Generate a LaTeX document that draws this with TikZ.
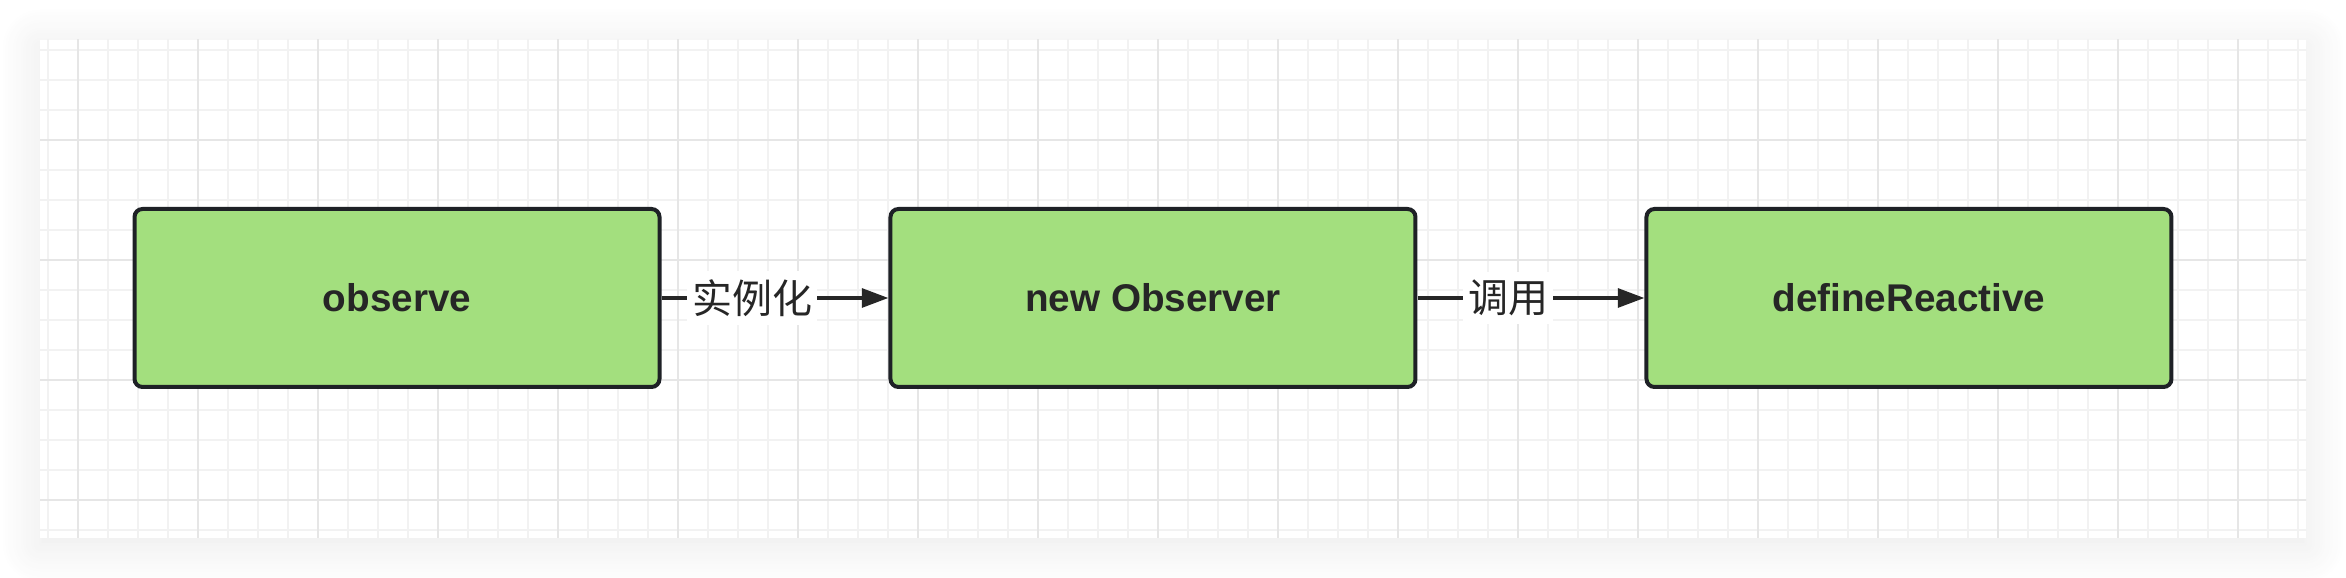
\documentclass[tikz,border=0pt]{standalone}
\usepackage{fontspec}
\setmainfont{Liberation Sans}
\newfontfamily\cjk{Noto Sans CJK SC}
\usepackage{tikz}
\usetikzlibrary{matrix,arrows.meta,shadows.blur}

\definecolor{boxfill}{HTML}{A3DF7E}
\definecolor{boxline}{HTML}{1E2126}
\definecolor{txt}{HTML}{262626}
\definecolor{gridminor}{HTML}{F2F2F2}
\definecolor{gridmajor}{HTML}{E6E6E6}

\tikzset{
	flowline/.style={line width=1.2pt,draw=txt,-{Triangle[length=8pt,width=5.6pt]}},
	flowlabel/.style={fill=white,text=txt,font=\cjk\fontsize{12}{14}\selectfont,inner xsep=1.5pt,inner ysep=2.5pt,pos=0.4},
}

\begin{document}
\begin{tikzpicture}[x=0.3pt,y=-0.3pt]
	\useasboundingbox (0,0) rectangle (2346,578);
	% canvas and grid
	\fill[white,blur shadow={shadow xshift=0pt,shadow yshift=-2pt,shadow blur radius=12pt,shadow blur steps=16,shadow opacity=9}] (40,40) rectangle (2306,538);
	\begin{scope}
	\clip (40,40) rectangle (2306,538);
	\draw[gridminor,line width=0.6pt,shift={(17.7,20)}] (-60,-60) grid[step=9pt] (2340,560);
	\draw[gridmajor,line width=0.7pt,shift={(-42.3,20)}] (-120,-120) grid[step=36pt] (2400,600);
	\end{scope}
	\matrix [matrix of nodes,column sep=68.1pt,
	nodes={rectangle,draw=boxline,fill=boxfill,line width=1.2pt,rounded corners=2.4pt,
		minimum width=157.5pt,minimum height=53.4pt,text=txt,font=\bfseries\fontsize{11.6}{14}\selectfont},
	] (M) at (1153,298)
	{
	observe & new Observer & defineReactive\\
	};
	\draw[flowline] (M-1-1) -- node[flowlabel]{实例化} (M-1-2);
	\draw[flowline] (M-1-2) -- node[flowlabel]{调用} (M-1-3);
\end{tikzpicture}
\end{document}
